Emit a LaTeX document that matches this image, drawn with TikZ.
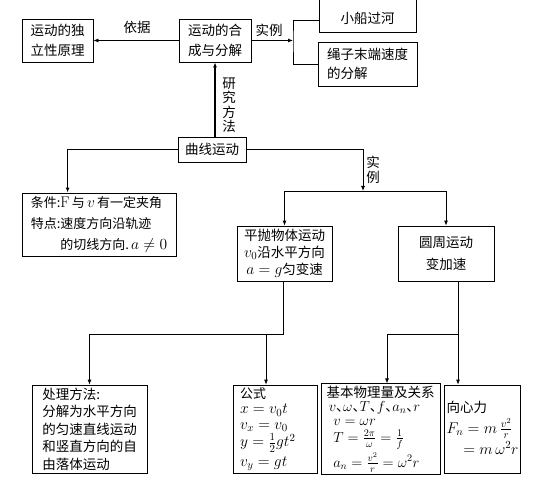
\RequirePackage{fix-cm}
\documentclass[tikz,border=0pt]{standalone}
\usepackage{fontspec}
\usepackage{amsmath}
\newfontfamily\cjk{Noto Sans CJK SC}
\usetikzlibrary{arrows.meta}
\newcommand\dun{\makebox[7pt][l]{\fontsize{13.5}{13.5}\selectfont 、}}
\newcommand\fm[1]{{\fontsize{15.5}{15.5}\selectfont$#1$}}
\newcommand\fs[1]{{\fontsize{14.5}{14.5}\selectfont$#1$}}

\begin{document}
\begin{tikzpicture}[x=1pt,y=-1pt,
  box/.style={draw,line width=0.8pt,inner sep=2pt,font=\cjk\fontsize{13.5}{17.5}\selectfont},
  arr/.style={line width=0.8pt,-{Latex[length=5pt,width=4pt]}},
  ln/.style={line width=0.8pt},
  lab/.style={inner sep=0pt,font=\cjk\fontsize{13.5}{14.5}\selectfont}]
\useasboundingbox (0,0) rectangle (535,481);
% upper row
\node[box,minimum width=71,minimum height=43,align=center] (B0) at (57.5,40.5) {运动的独\\[3pt]立性原理};
\node[box,minimum width=72,minimum height=43,align=center] (B1) at (215,40.5) {运动的合\\[3pt]成与分解};
\node[box,minimum width=97,minimum height=46,text height=32pt,text depth=2pt,align=center] (B2) at (367.5,9) {小船过河};
\node[box,minimum width=99,minimum height=44,align=left] (B3) at (367.5,64) {绳子末端速度\\[2pt]的分解};
\node[box,minimum width=68,minimum height=25,align=center] (B4) at (212,149.5) {曲线运动};
\node[box,minimum width=154,minimum height=63,align=left,font=\cjk\fontsize{13}{21}\selectfont] (B5) at (99,224.5)
  {条件:\fm{\mathrm{F}}\,与\,\fm{v}\,有一定夹角\\特点:速度方向沿轨迹\\\phantom{特点:}的切线方向.\,\fm{a\neq0}};
\node[box,minimum width=95,minimum height=55,align=left,font=\cjk\fontsize{13.5}{17}\selectfont] (B6) at (284.5,253.5)
  {平抛物体运动\\\fm{v_0}沿水平方向\\\,\fm{a=g}匀变速};
\node[box,minimum width=96,minimum height=55,align=center] (B7) at (446,253.5) {圆周运动\\[4pt]变加速};
% lower row
\node[box,minimum width=115,minimum height=88,align=left] (B8) at (89.5,429) {处理方法:\\分解为水平方向\\的匀速直线运动\\和竖直方向的自\\由落体运动};
\node[box,text width=70,inner xsep=7pt,minimum height=88,align=left,font=\cjk\fontsize{13}{15.5}\selectfont] (B9) at (275,429)
  {公式\\\fm{x=v_0t}\\\fm{v_x=v_0}\\[2pt]\fm{y=\frac{1}{2}gt^2}\\[4pt]\fm{v_y=gt}};
\node[box,minimum width=119,minimum height=88,align=left,font=\cjk\fontsize{13.5}{14}\selectfont] (B10) at (380.5,429)
  {基本物理量及关系\\\,\fs{v}\dun\fs{\omega}\dun\fs{T}\dun\fs{f}\dun\fs{a_n}\dun\fs{r}\\\enspace\fs{v=\omega r}\\[3pt]\enspace\fs{T=\frac{2\pi}{\omega}=\frac{1}{f}}\\[3pt]\enspace\fs{a_n=\frac{v^2}{r}=\omega^2r}};
\node[box,minimum width=67,minimum height=88,align=left,font=\cjk\fontsize{13.5}{21}\selectfont] (B11) at (482.5,429)
  {向心力\\\fm{F_n=m\,\frac{v^2}{r}}\\\phantom{\fm{F_n}}\fm{=m\,\omega^2r}};
% labels
\node[lab] (L0) at (137,27) {依据};
\node[lab] (L1) at (269,30) {实例};
\node[lab,align=center] (L2) at (229,105) {研\\究\\方\\法};
\node[lab,align=center] (L3) at (373,170) {实\\例};
% connectors
\coordinate (C0) at (293,40.5);
\coordinate (C1) at (363,191);
\coordinate (C2) at (283,334);
\coordinate (C3) at (266,334);
\coordinate (C4) at (458,334);
\coordinate (C5) at (387,334);
\draw[arr] (B1.west) -- (B0.east);
\draw[arr] (B1.east) -- (C0);
\draw[ln] (B2.west |- 0,20) -| (C0) |- (B3.west);
\draw[arr,line width=1.5pt] (B4.north -| B1.south) -- (B1.south);
\draw[arr,line width=1.5pt] (B4.west) -| ([xshift=46pt]B5.north west);
\draw[arr] (B4.east) -| (C1);
\draw[arr] (C1) -| (B6.north);
\draw[arr] (C1) -| (B7.north);
\draw[arr] (B6.south -| C2) |- (C2 -| B8.north) -- (B8.north);
\draw[arr] (C3) -- (C3 |- B9.north);
\draw[arr] (C4 |- B7.south) -- (C4 |- B11.north);
\draw[arr] (C4) -- (C5) -- (C5 |- B10.north);
\end{tikzpicture}
\end{document}
